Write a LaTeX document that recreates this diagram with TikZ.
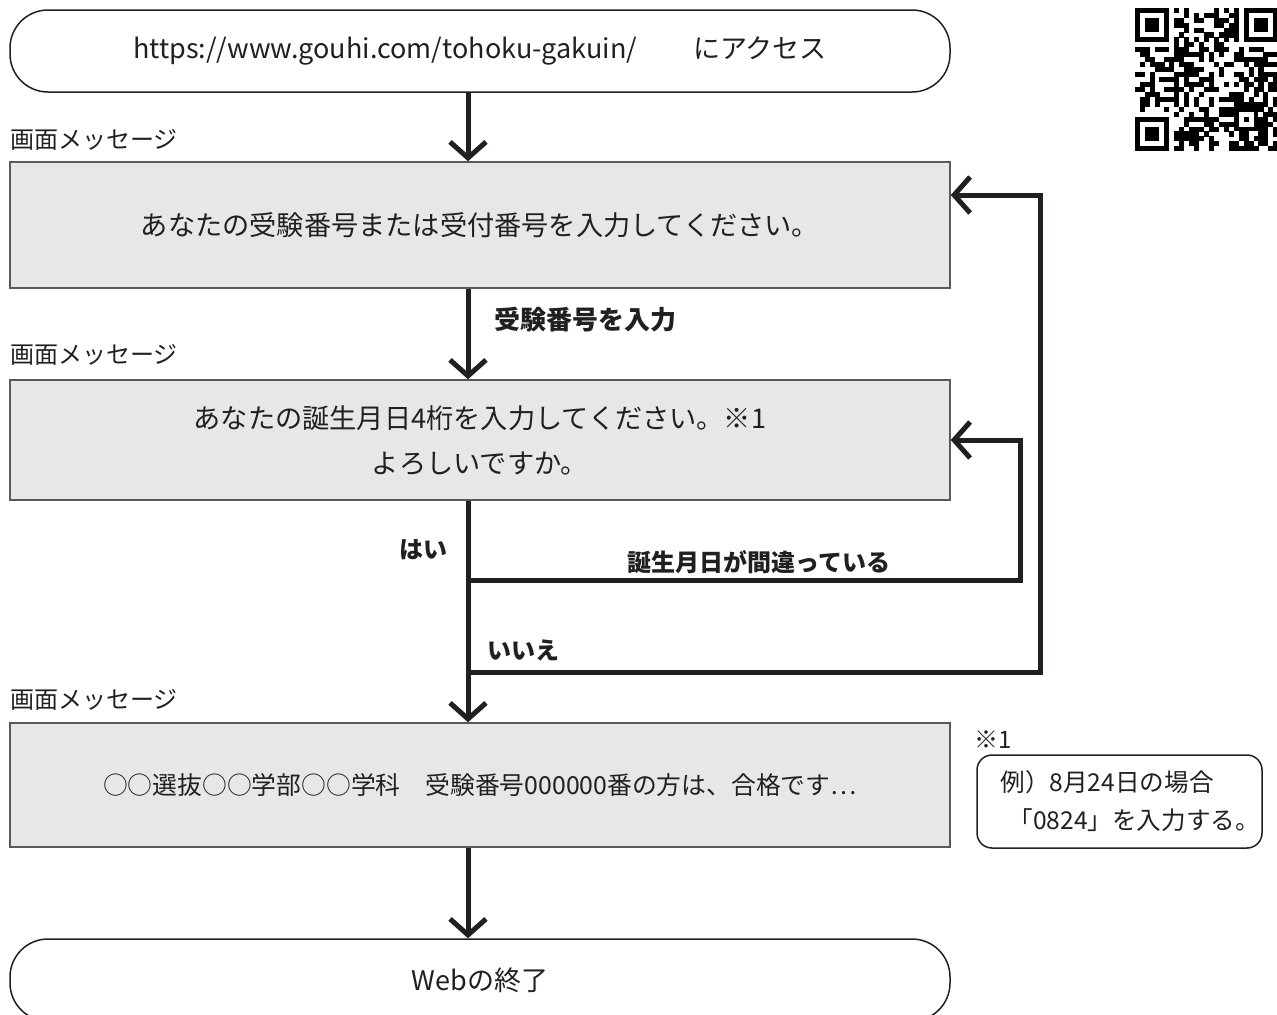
\documentclass[tikz,border=0pt]{standalone}
\usepackage{fontspec}
\setmainfont{Noto Sans CJK JP}
\usetikzlibrary{arrows.meta}
\definecolor{boxfill}{HTML}{E6E7E8}
\definecolor{ink}{HTML}{231F20}
\definecolor{edge}{HTML}{58595B}
\begin{document}
\begin{tikzpicture}[x=0.5pt,y=-0.5pt,
  msg/.style={draw=edge,line width=0.75pt,fill=boxfill,minimum width=470pt,text=ink,font=\fontsize{13.6}{22.5}\selectfont,align=center,inner sep=0pt},
  term/.style={draw=ink,line width=0.75pt,rounded corners=19pt,minimum width=470pt,minimum height=41pt,text=ink,inner sep=0pt,font=\fontsize{13.5}{16}\selectfont},
  lbl/.style={text=ink,font=\fontsize{12}{14}\selectfont,inner sep=0pt},
  blbl/.style={text=ink,font=\bfseries\fontsize{12}{14}\selectfont,inner sep=0pt},
  notebox/.style={draw=ink,line width=0.75pt,rounded corners=7.5pt,minimum width=142.5pt,minimum height=46.5pt,text=ink,align=left,text width=119pt,inner xsep=11.75pt,inner ysep=0pt,font=\fontsize{12.3}{19}\selectfont},
  flow/.style={draw=ink,line width=2.5pt},
  arr/.style={flow,-{Straight Barb[length=8pt,width=18pt]}}
]
\useasboundingbox (0,0) rectangle (1277,1014);

\node[term] (start) at (480,51) {https://www.gouhi.com/tohoku-gakuin/\hspace{28pt}にアクセス};
\node[lbl,anchor=west] (m1) at (10,140) {画面メッセージ};
\node[msg,minimum height=63pt] (b1) at (480,225) {あなたの受験番号または受付番号を入力してください。};
\node[blbl,anchor=west,font=\bfseries\fontsize{13}{15}\selectfont] (l1) at (494,320) {受験番号を入力};
\node[lbl,anchor=west] (m2) at (10,355) {画面メッセージ};
\node[msg,minimum height=60pt] (b2) at (480,440) {あなたの誕生月日4桁を入力してください。※1\\よろしいですか。};
\node[blbl] (yes) at (423,550) {はい};
\node[blbl] (wrong) at (759,562) {誕生月日が間違っている};
\node[blbl,anchor=west] (no) at (487,650) {いいえ};
\node[lbl,anchor=west] (m3) at (10,700) {画面メッセージ};
\node[msg,minimum height=62pt,font=\fontsize{12.4}{15}\selectfont] (b3) at (480,785) {○○選抜○○学部○○学科　受験番号000000番の方は、合格です…};
\node[lbl,anchor=west] (n1) at (974,740) {※1};
\node[notebox] (note) at (1119.5,801.5) {例）8月24日の場合\\\hspace*{4pt}「0824」を入力する。};
\node[term] (end) at (480,980) {Webの終了};

\coordinate (X) at (468,0);
\draw[arr] (start.south -| X) -- (b1.north -| X);
\draw[arr] (b1.south -| X) -- (b2.north -| X);
\draw[arr] (b2.south -| X) -- (b3.north -| X);
\draw[arr] (b3.south -| X) -- (end.north -| X);

\coordinate (j1) at (468,580);
\coordinate (c1) at (1020,440);
\draw[arr] (j1) -| (c1) -- (b2.east |- c1);
\coordinate (j2) at (468,672);
\coordinate (c2) at (1040,195);
\draw[arr] (j2) -| (c2) -- (b1.east |- c2);

% QR code
\begin{scope}[shift={(567.35pt,-3.85pt)},x=2.475pt,y=-2.475pt]
\pgfmathsetseed{7}
\foreach \i in {0,...,28}{\foreach \j in {0,...,28}{
  \pgfmathtruncatemacro\res{((\i<8)&&(\j<8)) || ((\i<8)&&(\j>20)) || ((\i>20)&&(\j<8)) || (\i==6) || (\j==6) || ((\i>19)&&(\i<25)&&(\j>19)&&(\j<25))}
  \pgfmathrandominteger{\r}{0}{1}
  \ifnum\res=0 \ifnum\r=1 \fill[black] (\j,\i) rectangle +(1.02,1.02); \fi\fi
}}
\foreach \k in {8,10,...,20}{\fill (\k,6) rectangle +(1,1); \fill (6,\k) rectangle +(1,1);}
\foreach \a/\b in {0/0,22/0,0/22}{
  \fill (\a,\b) rectangle +(7,7);
  \fill[white] (\a+1,\b+1) rectangle +(5,5);
  \fill (\a+2,\b+2) rectangle +(3,3);}
\fill (20,20) rectangle +(5,5);
\fill[white] (21,21) rectangle +(3,3);
\fill (22,22) rectangle +(1,1);
\end{scope}
\end{tikzpicture}
\end{document}
